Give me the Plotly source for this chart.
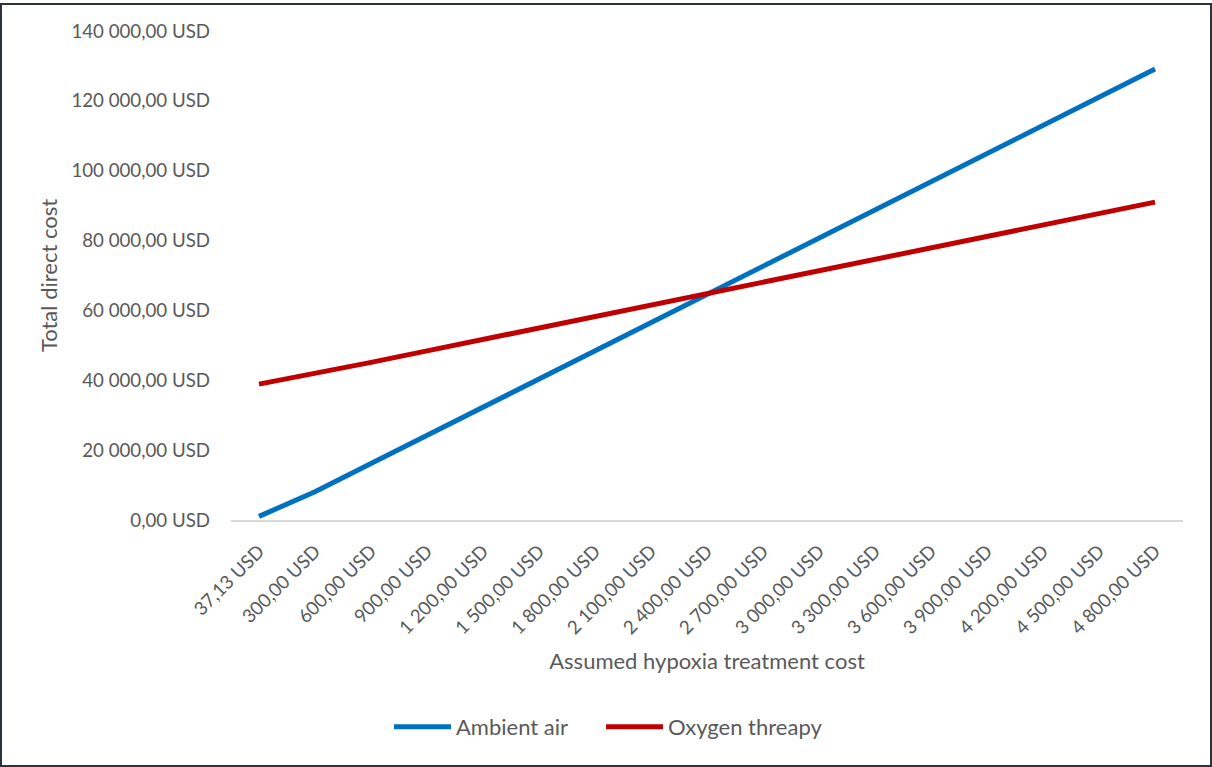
import plotly.graph_objects as go

categories = ["37,13 USD", "300,00 USD", "600,00 USD", "900,00 USD", "1 200,00 USD",
              "1 500,00 USD", "1 800,00 USD", "2 100,00 USD", "2 400,00 USD", "2 700,00 USD",
              "3 000,00 USD", "3 300,00 USD", "3 600,00 USD", "3 900,00 USD", "4 200,00 USD",
              "4 500,00 USD", "4 800,00 USD"]
ambient_air = [1030, 8100, 16170, 24230, 32300, 40370, 48430, 56500, 64570, 72630,
               80700, 88770, 96830, 104900, 112970, 121030, 129100]
oxygen_therapy = [38900, 41850, 45130, 48420, 51710, 55000, 58280, 61570, 64860, 68140,
                  71430, 74720, 78000, 81290, 84580, 87860, 91010]
y_ticks = [0, 20000, 40000, 60000, 80000, 100000, 120000, 140000]
y_tick_labels = ["0,00 USD", "20 000,00 USD", "40 000,00 USD", "60 000,00 USD",
                 "80 000,00 USD", "100 000,00 USD", "120 000,00 USD", "140 000,00 USD"]

FONT = "Lato"
GRAY = "#595959"

fig = go.Figure()
fig.add_trace(go.Scatter(x=categories, y=ambient_air, mode="lines", name="Ambient air",
                         line=dict(color="#0070C0", width=5), legend="legend"))
fig.add_trace(go.Scatter(x=categories, y=oxygen_therapy, mode="lines", name="Oxygen threapy",
                         line=dict(color="#C00000", width=5), legend="legend2"))

W, H = 1212, 767
L, R, T, B = 231, 29, 31, 247
pw = W - L - R
ph = H - T - B

def px_x(p):
    return (p - L) / pw

def px_y(p):
    return (H - B - p) / ph

legend_style = dict(orientation="h", xanchor="left", y=px_y(727), yanchor="middle",
                    font=dict(family=FONT, size=22, color=GRAY), itemwidth=57,
                    bgcolor="rgba(0,0,0,0)")

fig.update_layout(
    width=W, height=H,
    margin=dict(l=L, r=R, t=T, b=B),
    paper_bgcolor="white", plot_bgcolor="white",
    font=dict(family=FONT, size=18.7, color=GRAY),
    showlegend=True,
    legend=dict(x=px_x(389), **legend_style),
    legend2=dict(x=px_x(601), **legend_style),
    xaxis=dict(type="category", tickangle=-45, showgrid=False, showline=True,
               linecolor="#D9D9D9", linewidth=2, ticks="", ticklabelstandoff=11,
               tickfont=dict(family=FONT, size=18.7, color=GRAY),
               title=dict(text="Assumed hypoxia treatment cost", standoff=16,
                          font=dict(family=FONT, size=22, color=GRAY)),
               range=[-0.5, len(categories) - 0.5], zeroline=False),
    yaxis=dict(range=[0, 140000], tickvals=y_ticks, ticktext=y_tick_labels,
               showgrid=False, showline=False, zeroline=False, ticks="",
               ticklabelstandoff=20,
               tickfont=dict(family=FONT, size=18.7, color=GRAY),
               title=dict(text="Total direct cost", standoff=7,
                          font=dict(family=FONT, size=22, color=GRAY))),
)

fig.add_shape(type="rect", xref="paper", yref="paper",
              x0=px_x(1), x1=px_x(1211), y0=px_y(766), y1=px_y(4),
              line=dict(color="#2B323B", width=2), fillcolor="rgba(0,0,0,0)", layer="below")

fig.write_html("out.html")
